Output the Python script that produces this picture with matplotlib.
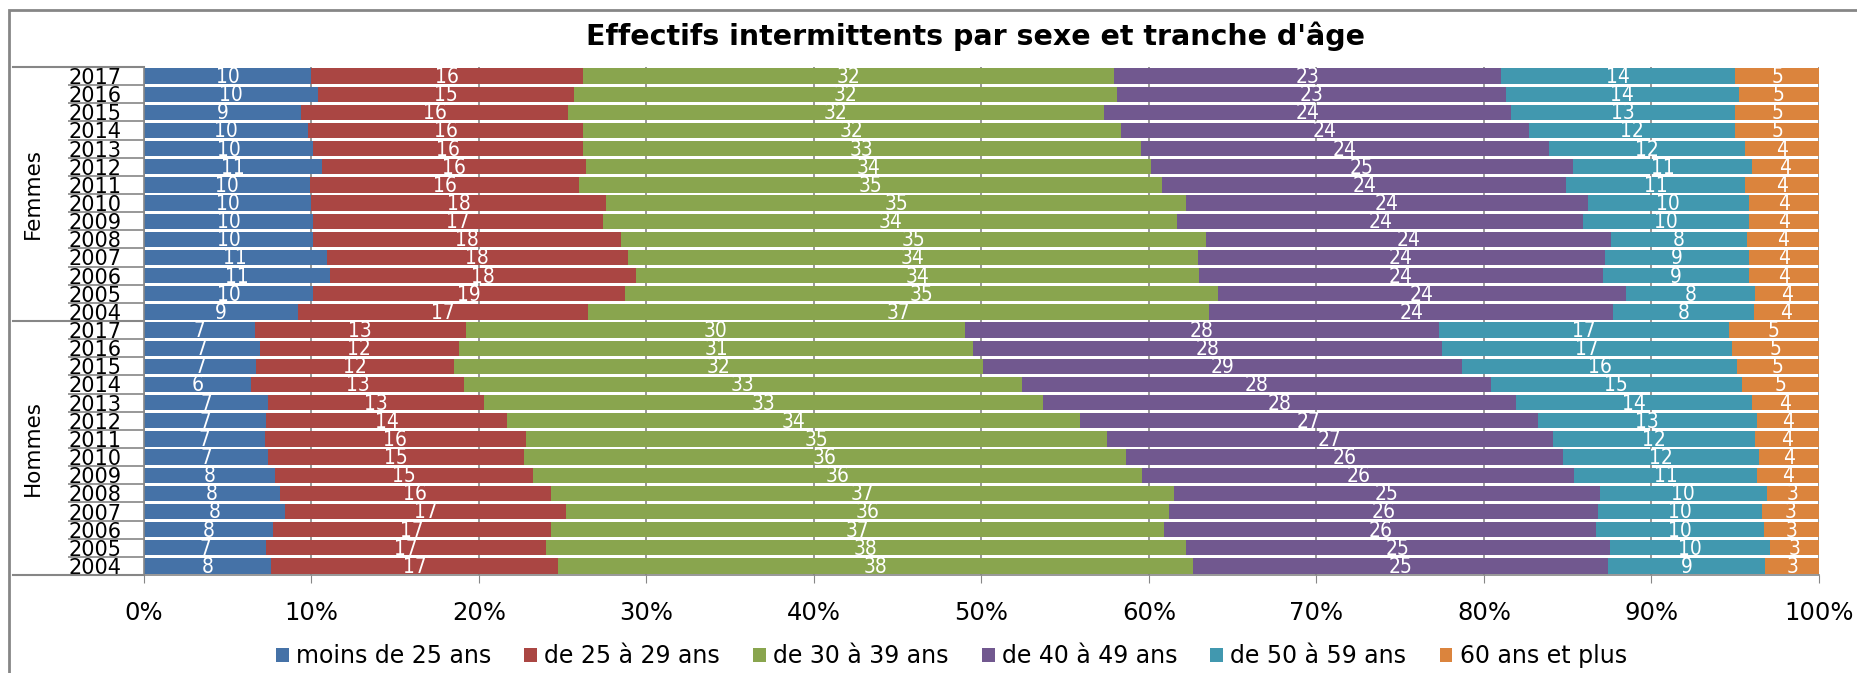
import matplotlib.pyplot as plt
from matplotlib.patches import Rectangle
from matplotlib.ticker import FixedLocator, PercentFormatter
import numpy as np

years = [str(y) for y in range(2004, 2018)]
groups = ["Hommes", "Femmes"]  # bottom to top, as drawn
age_bands = ["moins de 25 ans", "de 25 à 29 ans", "de 30 à 39 ans",
             "de 40 à 49 ans", "de 50 à 59 ans", "60 ans et plus"]
colors = ["#4572A7", "#AA4643", "#89A54E", "#71588F", "#4198AF", "#DB843D"]

# shares in %, years 2004 -> 2017
femmes = [
    [9.2, 10.1, 11.1, 10.9, 10.1, 10.1, 10.0, 9.9, 10.6, 10.1, 9.8, 9.4, 10.4, 10.0],
    [17.3, 18.6, 18.3, 18.0, 18.4, 17.3, 17.6, 16.1, 15.8, 16.1, 16.4, 15.9, 15.3, 16.2],
    [37.1, 35.4, 33.6, 34.0, 34.9, 34.3, 34.6, 34.8, 33.7, 33.3, 32.1, 32.0, 32.4, 31.7],
    [24.1, 24.4, 24.1, 24.3, 24.2, 24.2, 24.0, 24.1, 25.2, 24.4, 24.4, 24.3, 23.2, 23.1],
    [8.4, 7.7, 8.7, 8.6, 8.1, 9.9, 9.6, 10.7, 10.7, 11.7, 12.3, 13.4, 13.9, 14.0],
    [3.9, 3.8, 4.2, 4.2, 4.3, 4.2, 4.2, 4.4, 4.0, 4.4, 5.0, 5.0, 4.8, 5.0],
]
hommes = [
    [7.6, 7.3, 7.7, 8.4, 8.1, 7.8, 7.4, 7.2, 7.3, 7.4, 6.4, 6.7, 6.9, 6.6],
    [17.1, 16.7, 16.6, 16.8, 16.2, 15.4, 15.3, 15.6, 14.4, 12.9, 12.7, 11.8, 11.9, 12.6],
    [37.9, 38.2, 36.6, 36.0, 37.2, 36.4, 35.9, 34.7, 34.2, 33.4, 33.3, 31.6, 30.7, 29.8],
    [24.8, 25.3, 25.8, 25.6, 25.4, 25.8, 26.1, 26.6, 27.3, 28.2, 28.0, 28.6, 28.0, 28.3],
    [9.4, 9.6, 10.0, 9.8, 10.0, 10.9, 11.7, 12.1, 13.1, 14.1, 15.0, 16.4, 17.3, 17.3],
    [3.2, 2.9, 3.3, 3.4, 3.1, 3.7, 3.6, 3.8, 3.7, 4.0, 4.6, 4.9, 5.2, 5.4],
]

W, H = 1858, 673
fig = plt.figure(figsize=(W / 100, H / 100), dpi=100)
ax = fig.add_axes([144 / W, 1 - 575 / H, (1819 - 144) / W, (575 - 67) / H])

data = np.hstack([np.array(hommes), np.array(femmes)])  # bands x 28 rows
n = data.shape[1]
ypos = np.arange(n)
left = np.zeros(n)
grid_col = "#868686"

for band, name, c in zip(data, age_bands, colors):
    ax.barh(ypos, band, left=left, height=0.84, color=c, label=name, zorder=2)
    for y, v, l in zip(ypos, band, left):
        ax.text(l + v / 2, y - 0.05, f"{v:.0f}", ha="center", va="center",
                color="white", fontsize=15, fontstretch="condensed", zorder=3)
    left += band

ax.set_xlim(0, 100)
ax.set_ylim(-0.5, n - 0.5)
ax.xaxis.set_major_locator(FixedLocator(np.arange(0, 101, 10)))
ax.xaxis.set_major_formatter(PercentFormatter(decimals=0))
ax.set_axisbelow(True)
ax.xaxis.grid(True, color=grid_col, lw=1.2)
ax.tick_params(axis="x", length=6, color=grid_col, labelsize=17.5, pad=13)

ax.set_yticks(ypos)
ax.set_yticklabels(years * 2)
ax.tick_params(axis="y", which="major", length=0, labelsize=15, pad=16)
ax.set_yticks(np.arange(-0.5, n), minor=True)
ax.tick_params(axis="y", which="minor", length=55, color=grid_col, width=1.2)

for s in ["top", "right"]:
    ax.spines[s].set_visible(False)
for s in ["left", "bottom"]:
    ax.spines[s].set_color(grid_col)
    ax.spines[s].set_linewidth(1.2)

# group separators and group names
trans = ax.get_yaxis_transform()
for yb in [-0.5, 13.5, 27.5]:
    ax.plot([-131 / 1675, 0], [yb, yb], color=grid_col, lw=1.5,
            transform=trans, clip_on=False)
for i, g in enumerate(groups):
    ax.text(-111 / 1675, i * 14 + 6.5, g, rotation=90, ha="center",
            va="center", fontsize=15.5, transform=trans)

fig.text(0.525, 1 - 36 / H, "Effectifs intermittents par sexe et tranche d'âge",
         ha="center", va="center", fontsize=20.5, fontweight="bold")

fig.legend(loc="center", bbox_to_anchor=(0.512, 1 - 656 / H), ncol=6,
           frameon=False, fontsize=17, handlelength=0.55, handleheight=0.55,
           handletextpad=0.3, columnspacing=1.4)

fig.patches.append(Rectangle((9 / W, -0.1), 1.2, 1 - 10 / H + 0.1,
                             transform=fig.transFigure, fill=False,
                             edgecolor=grid_col, lw=2))

fig.savefig("out.png", dpi=100)
